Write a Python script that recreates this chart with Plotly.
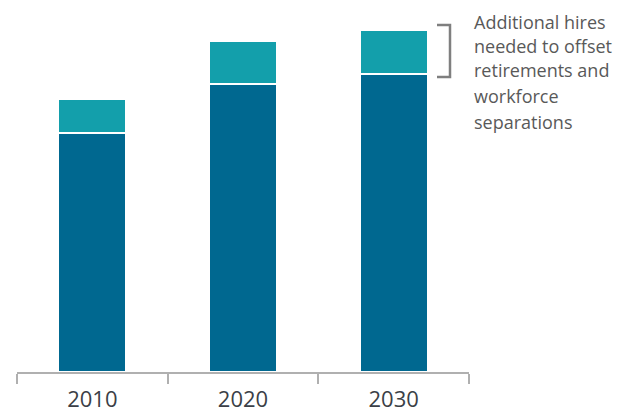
import plotly.graph_objects as go

years = ["2010", "2020", "2030"]
workforce = [239, 288, 298]
additional_hires = [34, 43, 44]

note_lines = ["Additional hires", "needed to offset", "retirements and", "workforce", "separations"]

DARK = "#006890"
TEAL = "#139fab"

# the page body adds an 8px margin, so the figure is drawn 8px smaller
OFF = 8
W, H = 631 - OFF, 416 - OFF
pl, pr, pt, pb = 17 - OFF, 162, 20 - OFF, 44
pw, ph = W - pl - pr, H - pt - pb


def px_x(v):
    # screen x (reference pixels) -> paper coordinate
    return (v - OFF - pl) / pw


def px_y(v):
    return 1 - (v - OFF - pt) / ph


fig = go.Figure()
fig.add_trace(go.Bar(
    x=years, y=workforce, name="Workforce",
    marker=dict(color=DARK, line=dict(color="white", width=1.5)),
    width=0.45,
))
fig.add_trace(go.Bar(
    x=years, y=additional_hires, name="Additional hires",
    marker=dict(color=TEAL, line=dict(color="white", width=1.5)),
    width=0.45,
))

# bracket next to the 2030 hires segment
fig.add_shape(
    type="path",
    path=(f"M {px_x(437)} {px_y(25)} L {px_x(450)} {px_y(25)} "
          f"L {px_x(450)} {px_y(77)} L {px_x(437)} {px_y(77)}"),
    xref="paper", yref="paper", line=dict(color="#7f7f7f", width=2.5),
)

line_y = [21.5, 45.5, 70.5, 96, 121.5]
for txt, yy in zip(note_lines, line_y):
    fig.add_annotation(
        x=px_x(472), y=px_y(yy), xref="paper", yref="paper",
        text=txt, showarrow=False, xanchor="left", yanchor="middle", align="left",
        font=dict(size=18, color="#595959", family="Open Sans"),
    )

fig.update_layout(
    barmode="stack",
    width=W, height=H,
    margin=dict(l=pl, r=pr, t=pt, b=pb),
    paper_bgcolor="white", plot_bgcolor="white",
    showlegend=False,
    xaxis=dict(
        type="category", tickson="boundaries", ticks="outside", ticklen=10,
        tickcolor="#b0b0b0", tickwidth=2, showline=True, linecolor="#b0b0b0",
        linewidth=2, showgrid=False, ticklabelstandoff=7, automargin=False,
        tickfont=dict(size=22, color="#3b3f47", family="Open Sans"),
    ),
    yaxis=dict(range=[0, 352], visible=False, showgrid=False, automargin=False),
)

fig.write_html("out.html")
